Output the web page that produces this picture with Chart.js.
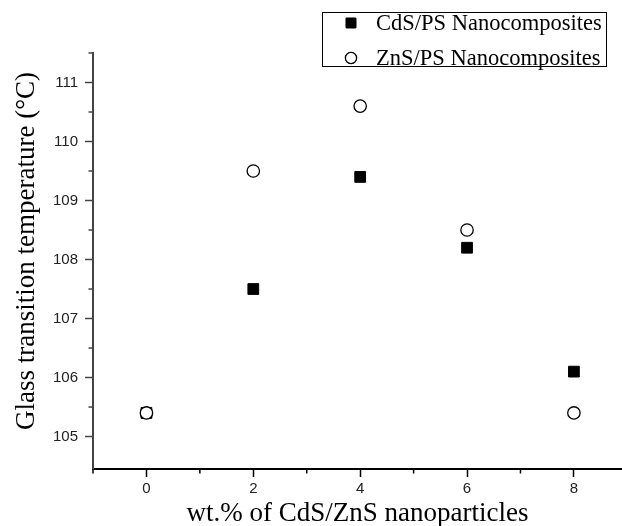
<!DOCTYPE html>
<html>
<head>
<meta charset="utf-8">
<script src="https://cdn.jsdelivr.net/npm/chart.js@4.4.1/dist/chart.umd.min.js"></script>
<style>
  html, body { margin: 0; padding: 0; background: #fff; }
  #wrap { width: 622px; height: 526px; }
</style>
</head>
<body>
<div id="wrap"><canvas id="tgChart" width="622" height="526"></canvas></div>
<script>
// wt.% loading and measured Tg values
const loadings = [0, 2, 4, 6, 8];
const cdsTg = [105.4, 107.5, 109.4, 108.2, 106.1];
const znsTg = [105.4, 109.5, 110.6, 108.5, 105.4];
const xMinorTicks = [-1, 1, 3, 5, 7];
const yMinorTicks = [105.5, 106.5, 107.5, 108.5, 109.5, 110.5, 111.5];
const yTitle = "Glass transition temperature (°C)";

const serif = "'Liberation Serif', 'Times New Roman', serif";
const sans = "'Liberation Sans', Arial, sans-serif";

const toPoints = (ys) => loadings.map((x, i) => ({ x: x, y: ys[i] }));

// minor ticks, y title and boxed legend, drawn after the chart
const extras = {
  id: "extras",
  afterDraw(chart) {
    const ctx = chart.ctx;
    const xs = chart.scales.x;
    const ys = chart.scales.y;
    const area = chart.chartArea;
    ctx.save();
    ctx.lineWidth = 1.5;
    ctx.strokeStyle = "#000";
    xMinorTicks.forEach((v) => {
      const px = xs.getPixelForValue(v);
      ctx.beginPath();
      ctx.moveTo(px, area.bottom);
      ctx.lineTo(px, area.bottom + 4.5);
      ctx.stroke();
    });
    ctx.strokeStyle = "#444";
    yMinorTicks.forEach((v) => {
      const py = ys.getPixelForValue(v);
      ctx.beginPath();
      ctx.moveTo(area.left, py);
      ctx.lineTo(area.left - 4.5, py);
      ctx.stroke();
    });

    // y title (sits a bit above the axis middle in the original)
    ctx.save();
    ctx.translate(27, 251);
    ctx.rotate(-Math.PI / 2);
    ctx.font = "27px " + serif;
    ctx.fillStyle = "#000";
    ctx.textAlign = "center";
    ctx.textBaseline = "middle";
    ctx.fillText(yTitle, 0, 0);
    ctx.restore();

    // legend box
    ctx.lineWidth = 1;
    ctx.strokeStyle = "#000";
    ctx.strokeRect(322.5, 12.5, 284, 54);
    ctx.font = "22.5px " + serif;
    ctx.fillStyle = "#000";
    ctx.textBaseline = "middle";
    chart.data.datasets.forEach((ds, i) => {
      const y = 23 + i * 35;
      Chart.helpers.drawPoint(ctx, {
        pointStyle: ds.pointStyle,
        radius: ds.pointStyle === "rect" ? 6.8 : 5.6,
        borderWidth: ds.borderWidth,
        rotation: 0
      }, 351, y);
      ctx.fillStyle = ds.backgroundColor;
      ctx.strokeStyle = ds.borderColor;
      ctx.lineWidth = ds.borderWidth;
      ctx.fill();
      ctx.stroke();
      ctx.fillStyle = "#000";
      ctx.fillText(ds.label, 376, y + 1);
    });
    ctx.restore();
  }
};

new Chart(document.getElementById("tgChart"), {
  type: "scatter",
  data: {
    datasets: [
      {
        label: "CdS/PS Nanocomposites",
        data: toPoints(cdsTg),
        pointStyle: "rect",
        pointRadius: 7.6,
        borderWidth: 1,
        backgroundColor: "#000",
        borderColor: "#000",
        order: 2
      },
      {
        label: "ZnS/PS Nanocomposites",
        data: toPoints(znsTg),
        pointStyle: "circle",
        pointRadius: 6.2,
        borderWidth: 1.3,
        backgroundColor: "#fff",
        borderColor: "#000",
        order: 1
      }
    ]
  },
  options: {
    responsive: false,
    animation: false,
    events: [],
    // axis runs right to the canvas edge, as in the cropped original
    layout: { autoPadding: false, padding: { top: 53, right: 0, left: 0, bottom: 0 } },
    scales: {
      x: {
        type: "linear",
        min: -1,
        max: 8.9,
        afterFit: (s) => { s.height = 57; },
        border: { display: true, color: "#000", width: 2 },
        grid: { drawOnChartArea: false, drawTicks: true, tickLength: 8, tickColor: "#000", tickWidth: 1.5 },
        ticks: { stepSize: 2, includeBounds: false, padding: 3, color: "#222", font: { family: sans, size: 15 } },
        title: {
          display: true,
          text: "wt.% of CdS/ZnS nanoparticles",
          color: "#000",
          font: { family: serif, size: 27, lineHeight: 0.9 },
          padding: 0
        }
      },
      y: {
        type: "linear",
        min: 104.45,
        max: 111.5,
        afterFit: (s) => { s.width = 93; },
        border: { display: true, color: "#444", width: 2 },
        grid: { drawOnChartArea: false, drawTicks: true, tickLength: 8, tickColor: "#444", tickWidth: 1.5 },
        ticks: { stepSize: 1, includeBounds: false, padding: 7, color: "#222", font: { family: sans, size: 15 } }
      }
    },
    plugins: {
      legend: { display: false },
      tooltip: { enabled: false }
    }
  },
  plugins: [extras]
});
</script>
</body>
</html>
